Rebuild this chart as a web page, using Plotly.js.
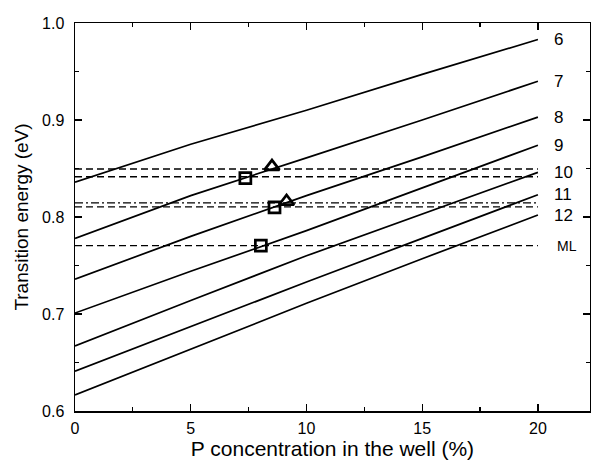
<!DOCTYPE html>
<html>
<head>
<meta charset="utf-8">
<script src="https://cdn.plot.ly/plotly-3.0.1.min.js"></script>
<style>html,body{margin:0;padding:0;background:#fff;}#chart{width:591px;height:463px;}</style>
</head>
<body>
<div id="chart"></div>
<script>
// P concentration (%) sample points
const xConc = [0, 5, 10, 15, 20];
// Well-width curves (labels at right)
const curveLabels = ["6", "7", "8", "9", "10", "11", "12"];
const curve6  = [0.836, 0.875, 0.910, 0.947, 0.983];
const curve7  = [0.778, 0.822, 0.861, 0.900, 0.940];
const curve8  = [0.736, 0.780, 0.822, 0.862, 0.903];
const curve9  = [0.701, 0.744, 0.786, 0.830, 0.874];
const curve10 = [0.667, 0.714, 0.760, 0.803, 0.846];
const curve11 = [0.641, 0.687, 0.733, 0.778, 0.823];
const curve12 = [0.6165, 0.664, 0.711, 0.757, 0.802];
const curves = [curve6, curve7, curve8, curve9, curve10, curve11, curve12];

// Horizontal reference levels (eV)
const hLevelX = [0, 20];
const hLevels = [0.8495, 0.8415, 0.8146, 0.8105, 0.7705];
const hDash   = ["dash", "dash", "dashdot", "dash", "dash"];
const mlLabel = "ML";

// Markers
const squareX = [7.36, 8.62, 8.03];
const squareY = [0.840, 0.810, 0.7705];
const triX = [8.51, 9.14];
const triY = [0.852, 0.816];

const FONT = 'Liberation Sans, Arial, sans-serif';
const traces = [];
curves.forEach((c) => {
  traces.push({x: xConc, y: c, mode: 'lines', line: {color: '#000', width: 1.7}, hoverinfo: 'skip', showlegend: false});
});
hLevels.forEach((v, i) => {
  traces.push({x: hLevelX, y: [v, v], mode: 'lines',
    line: {color: '#000', width: 1.3, dash: hDash[i] === 'dash' ? '7px,4px' : '8px,3px,2px,3px'},
    hoverinfo: 'skip', showlegend: false});
});
traces.push({x: squareX, y: squareY, mode: 'markers',
  marker: {symbol: 'square-open', size: 11, color: '#000', line: {width: 2.7, color: '#000'}}, showlegend: false});
traces.push({x: triX, y: triY, mode: 'markers',
  marker: {symbol: 'triangle-up-open', size: 13, color: '#000', line: {width: 2.7, color: '#000'}}, showlegend: false});

const annotations = curves.map((c, i) => ({
  x: 20.62, y: c[c.length - 1], xref: 'x', yref: 'y', text: curveLabels[i],
  showarrow: false, xanchor: 'left', yanchor: 'middle',
  font: {family: FONT, size: 17, color: '#000'}
}));
annotations.push({x: 20.72, y: hLevels[hLevels.length - 1], xref: 'x', yref: 'y', text: mlLabel,
  showarrow: false, xanchor: 'left', yanchor: 'middle',
  font: {family: FONT, size: 14, color: '#000'}});

const axisCommon = {
  showline: true, linecolor: '#000', linewidth: 1.5, mirror: 'ticks',
  ticks: 'inside', ticklen: 7, tickwidth: 1.3, tickcolor: '#000',
  showgrid: false, zeroline: false,
  tickfont: {family: FONT, size: 16, color: '#000'}
};

const layout = {
  width: 591, height: 463,
  margin: {l: 75, r: 1, t: 23, b: 52},
  paper_bgcolor: '#fff', plot_bgcolor: '#fff',
  showlegend: false,
  xaxis: Object.assign({}, axisCommon, {
    range: [0, 22.25], dtick: 5, tick0: 0,
    ticklabelstandoff: 2,
    minor: {dtick: 2.5, ticks: 'inside', ticklen: 4, tickcolor: '#000', tickwidth: 1.2},
    title: {text: 'P concentration in the well (%)', standoff: 0,
      font: {family: FONT, size: 21, color: '#000'}}
  }),
  yaxis: Object.assign({}, axisCommon, {
    range: [0.6, 1.0], dtick: 0.1, tick0: 0.6, tickformat: '.1f',
    ticklabelstandoff: 6,
    minor: {dtick: 0.05, ticks: 'inside', ticklen: 4, tickcolor: '#000', tickwidth: 1.2},
    title: {text: 'Transition energy (eV)', standoff: 8,
      font: {family: FONT, size: 19, color: '#000'}}
  }),
  annotations: annotations
};

Plotly.newPlot('chart', traces, layout, {displayModeBar: false, staticPlot: true});
</script>
</body>
</html>
